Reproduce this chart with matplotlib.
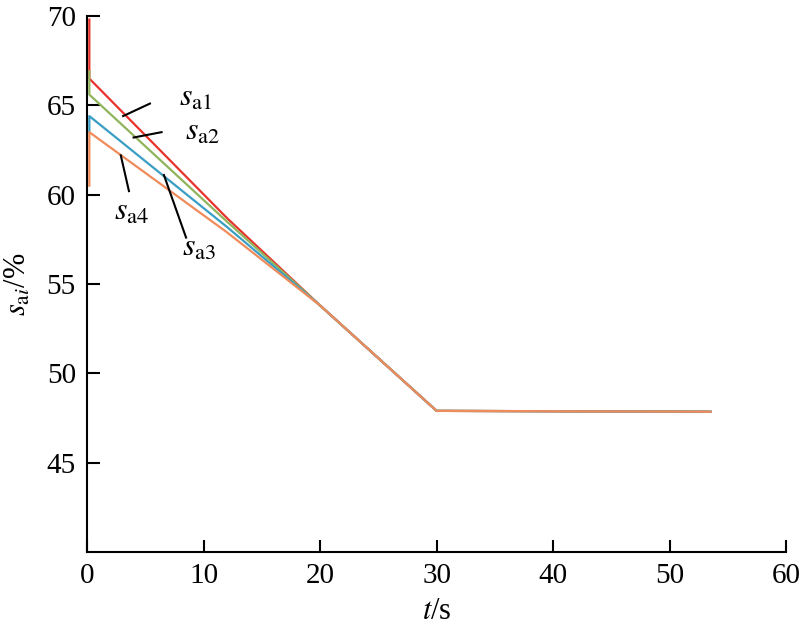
import numpy as np
import matplotlib
matplotlib.use('Agg')
import matplotlib.pyplot as plt

plt.rcParams['font.family'] = ['Liberation Serif', 'DejaVu Serif']
plt.rcParams['mathtext.fontset'] = 'stix'

# time points: two at t~0 (start value, then jump), merging, plateau start, end
t = [0.2, 0.2, 12, 20, 30, 53.5]

sa1 = [69.8, 66.5, 58.7, 53.8, 47.9, 47.85]
sa2 = [66.9, 65.6, 58.5, 53.8, 47.9, 47.85]
sa3 = [63.5, 64.4, 58.2, 53.8, 47.9, 47.85]
sa4 = [60.5, 63.5, 57.9, 53.8, 47.9, 47.85]

series = [sa1, sa2, sa3, sa4]
colors = ['#e8322b', '#8fb45c', '#3a9ec4', '#f08b5b']

# label texts, leader lines (start, end) and label positions, in data units
labels = [r'$s_{\mathrm{a1}}$', r'$s_{\mathrm{a2}}$', r'$s_{\mathrm{a3}}$', r'$s_{\mathrm{a4}}$']
leader_start = [(3.1, 64.4), (4.0, 63.2), (6.6, 61.1), (2.9, 62.2)]
leader_end = [(5.4, 65.1), (6.4, 63.5), (8.5, 57.6), (3.6, 60.2)]
label_pos = [(9.3, 65.4), (9.9, 63.5), (9.6, 57.0), (3.8, 59.0)]

fig = plt.figure(figsize=(8, 6.31), dpi=100)
ax = fig.add_axes([0.10875, 0.1252, 0.874, 0.8494])

for vals, c in zip(series, colors):
    ax.plot(t, vals, color=c, linewidth=1.6, zorder=3, clip_on=False)

for lab, s, e, p in zip(labels, leader_start, leader_end, label_pos):
    ax.plot([s[0], e[0]], [s[1], e[1]], color='black', linewidth=1.5, zorder=4)
    ax.text(p[0], p[1], lab, fontsize=23, ha='center', va='center', zorder=5)

ax.set_xlim(0, 60)
ax.set_ylim(40, 70)
ax.set_xticks(np.arange(0, 61, 10))
ax.set_yticks(np.arange(45, 71, 5))

ax.spines['top'].set_visible(False)
ax.spines['right'].set_visible(False)
ax.spines['left'].set_linewidth(1.5)
ax.spines['bottom'].set_linewidth(1.5)
ax.tick_params(direction='in', length=9, width=1.5, labelsize=21, pad=8)

ax.set_xlabel(r'$t$/s', fontsize=22, labelpad=6)
ax.set_ylabel(r'$s_{\mathrm{a}i}$/%', fontsize=22, labelpad=10)

fig.savefig('out.png', dpi=100, facecolor='white')
